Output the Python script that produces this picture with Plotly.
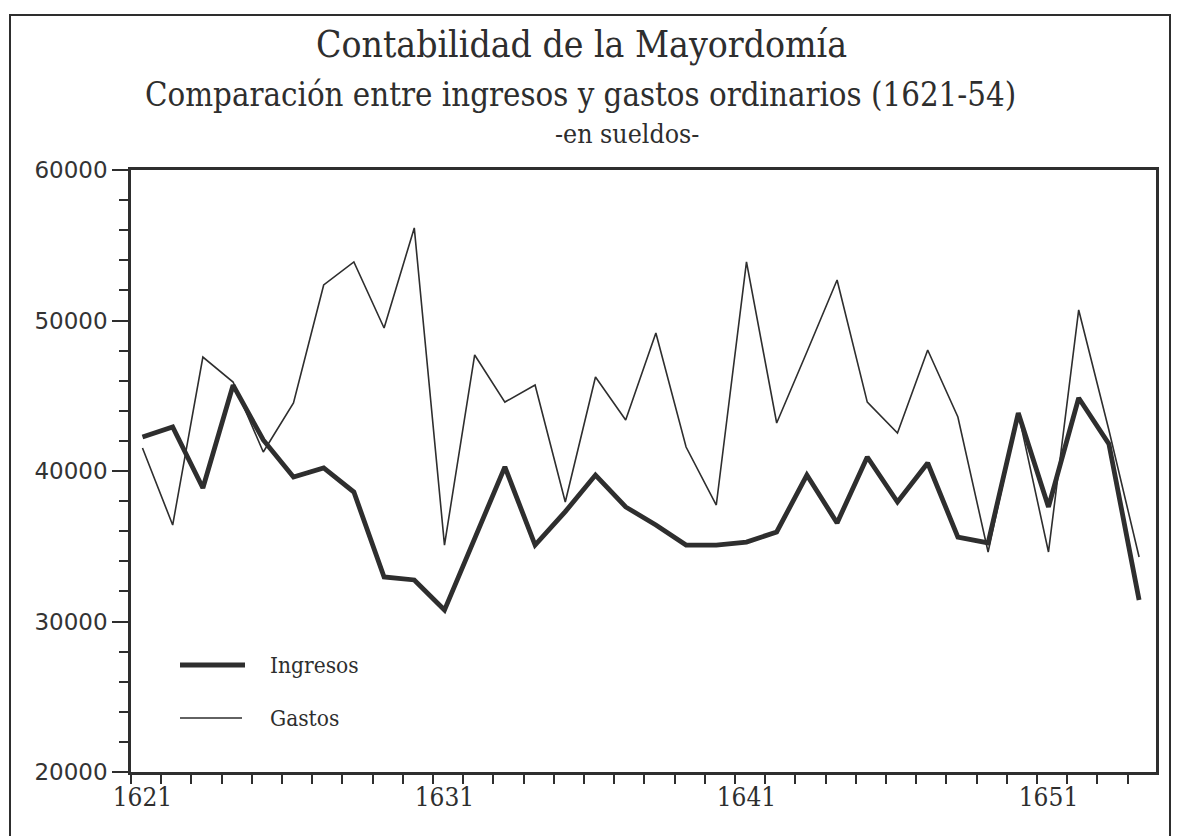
import plotly.graph_objects as go

years = list(range(1621, 1655))
ingresos = [42260, 42920, 38870, 45710, 42060, 39600, 40200, 38600, 32960, 32760,
            30760, 35480, 40270, 35080, 37300, 39730, 37610, 36410, 35080, 35080,
            35280, 35950, 39730, 36550, 40930, 37940, 40530, 35610, 35220, 43850,
            37610, 44850, 41800, 31430]
gastos = [41530, 36410, 47570, 45910, 41260, 44520, 52360, 53890, 49500, 56150,
          35080, 47710, 44580, 45710, 37940, 46250, 43390, 49170, 41590, 37740,
          53890, 43190, 47910, 52690, 44580, 42520, 48040, 43590, 34620, 43850,
          34620, 50700, 42720, 34290]
x_labels = ["1621", "1631", "1641", "1651"]
x_label_years = [1621, 1631, 1641, 1651]
series_names = ["Ingresos", "Gastos"]
title_lines = ["Contabilidad de la Mayordomía",
               "Comparación entre ingresos y gastos ordinarios (1621-54)",
               "-en sueldos-"]

INK = "#2e2e2e"
SERIF = "DejaVu Serif Condensed, DejaVu Serif, serif"
offset = 0.38  # axis ticks sit slightly left of the data years

fig = go.Figure()
fig.add_trace(go.Scatter(x=years, y=gastos, mode="lines", name=series_names[1],
                         line=dict(color=INK, width=1.6), showlegend=False))
fig.add_trace(go.Scatter(x=years, y=ingresos, mode="lines", name=series_names[0],
                         line=dict(color=INK, width=4.8), showlegend=False))

x0 = years[0] - offset
minor_vals = [x0 + i for i in range(len(years) + 1)]

fig.update_xaxes(range=[x0, years[-1] + 0.56], tickmode="array",
                 tickvals=x_label_years, ticktext=x_labels, ticks="", ticklen=0,
                 showgrid=False, zeroline=False, showline=True, linecolor=INK,
                 linewidth=2.5, mirror=True,
                 tickfont=dict(family=SERIF, size=26, color=INK),
                 minor=dict(tickmode="array", tickvals=minor_vals, ticks="outside",
                            ticklen=9, tickwidth=2, tickcolor=INK, showgrid=False))
fig.update_yaxes(range=[20000, 60000], tickmode="linear", tick0=20000, dtick=10000,
                 tickformat="d",
                 ticks="outside", ticklen=16, tickwidth=2, tickcolor=INK,
                 showgrid=False, zeroline=False, showline=True, linecolor=INK,
                 linewidth=2.5, mirror=True,
                 tickfont=dict(family="DejaVu Sans, Verdana, sans-serif", size=23, color="#333"),
                 minor=dict(dtick=2000, ticks="outside", ticklen=9, tickwidth=2,
                            tickcolor=INK, showgrid=False))

# page coordinates (the page places the figure 8px from the top-left corner)
OFF = 8
PL, PR, PT, PB = 131, 1156, 170, 772   # plot area edges on the page
W, H = 1174, 828
L, T = PL - OFF, PT - OFF
R, B = W - (PR - OFF), H - (PB - OFF)
pw, ph = PR - PL, PB - PT

def px(xp):
    return (xp - PL) / pw

def py(yp):
    return (PB - yp) / ph

annotations = []
for text, xc, yc, size in [(title_lines[0], 581, 45, 37),
                           (title_lines[1], 580, 95, 32.7),
                           (title_lines[2], 627, 133, 26.5)]:
    annotations.append(dict(text=text, x=px(xc), y=py(yc), xref="paper", yref="paper",
                            xanchor="center", yanchor="middle", showarrow=False,
                            font=dict(family=SERIF, size=size, color=INK)))
for name, yc in [(series_names[0], 665), (series_names[1], 718)]:
    annotations.append(dict(text=name, x=px(268), y=py(yc), xref="paper", yref="paper",
                            xanchor="left", yanchor="middle", showarrow=False,
                            font=dict(family=SERIF, size=22.5, color=INK)))

shapes = [
    dict(type="line", xref="paper", yref="paper", x0=px(180), x1=px(245),
         y0=py(665), y1=py(665), line=dict(color=INK, width=4.8)),
    dict(type="line", xref="paper", yref="paper", x0=px(180), x1=px(242),
         y0=py(718), y1=py(718), line=dict(color=INK, width=1.6)),
    dict(type="rect", xref="paper", yref="paper", x0=px(10), x1=px(1170),
         y0=py(860), y1=py(15), line=dict(color=INK, width=2), layer="below"),
]

fig.update_layout(width=W, height=H, margin=dict(l=L, r=R, t=T, b=B),
                  plot_bgcolor="white", paper_bgcolor="white",
                  annotations=annotations, shapes=shapes, showlegend=False)

fig.write_html("out.html")
